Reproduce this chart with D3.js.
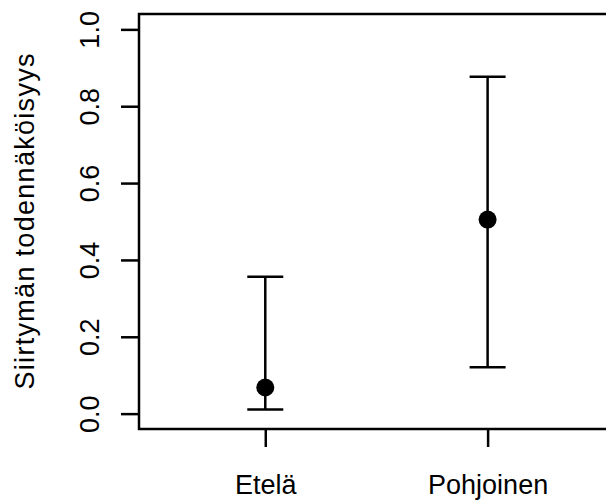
<!DOCTYPE html>
<html>
<head>
<meta charset="utf-8">
<script src="https://cdn.jsdelivr.net/npm/d3@7"></script>
<style>
  body { margin: 0; background: #fff; }
  text { font-family: "Liberation Sans", Arial, sans-serif; fill: #000; }
</style>
</head>
<body>
<div class="canvas"></div>
<script>
// data
const categories = ['Etelä', 'Pohjoinen'];
const estimates = [0.068, 0.505];
const lower = [0.011, 0.121];
const upper = [0.356, 0.877];
const yTicks = [0, 0.2, 0.4, 0.6, 0.8, 1.0];
const yLabel = 'Siirtymän todennäköisyys';

const width = 606, height = 503;
const plot = { left: 139, top: 14, bottom: 429, right: 621 };
const fontSize = 27;

const svg = d3
  .select('.canvas')
  .append('svg')
  .attr('width', width)
  .attr('height', height);

// scales (R style: 4% padding on y)
const y = d3.scaleLinear().domain([-0.04, 1.04]).range([plot.bottom, plot.top]);
const x = d3.scaleLinear().domain([0.432, 2.6]).range([plot.left, plot.right]);

// y axis
const yAxis = svg
  .append('g')
  .attr('transform', `translate(${plot.left},0)`)
  .call(d3.axisLeft(y).tickValues(yTicks).tickSize(18).tickFormat(d3.format('.1f')));
yAxis.select('.domain').remove();
yAxis.selectAll('line').attr('stroke', '#000').attr('stroke-width', 2.5);
yAxis
  .selectAll('text')
  .attr('x', null)
  .attr('dy', null)
  .attr('text-anchor', 'middle')
  .attr('transform', 'translate(-40,0) rotate(-90)')
  .style('font-size', fontSize + 'px')
  .style('font-family', '"Liberation Sans", Arial, sans-serif');

// x axis
const xAxis = svg
  .append('g')
  .attr('transform', `translate(0,${plot.bottom})`)
  .call(
    d3.axisBottom(x)
      .tickValues([1, 2])
      .tickSize(18)
      .tickFormat((d) => categories[d - 1])
  );
xAxis.select('.domain').remove();
xAxis.selectAll('line').attr('stroke', '#000').attr('stroke-width', 2.5);
xAxis
  .selectAll('text')
  .attr('y', 65)
  .attr('dy', null)
  .style('font-size', fontSize + 'px')
  .style('font-family', '"Liberation Sans", Arial, sans-serif');

// y label, centred on the plot region like R's mtext
svg
  .append('text')
  .attr('transform', `translate(34,${(plot.top + plot.bottom) / 2}) rotate(-90)`)
  .attr('text-anchor', 'middle')
  .attr('textLength', 336)
  .attr('lengthAdjust', 'spacing')
  .style('font-size', fontSize + 'px')
  .text(yLabel);

// plot box
svg
  .append('rect')
  .attr('x', plot.left)
  .attr('y', plot.top)
  .attr('width', plot.right - plot.left)
  .attr('height', plot.bottom - plot.top)
  .attr('fill', 'none')
  .attr('stroke', '#000')
  .attr('stroke-width', 2.5);

// error bars
const rows = categories.map((c, i) => ({ i: i + 1, est: estimates[i], lo: lower[i], hi: upper[i] }));
const capHalf = 18;

const bars = svg.append('g').attr('stroke', '#000').attr('stroke-width', 2.5);
bars
  .selectAll('.stem')
  .data(rows)
  .enter()
  .append('line')
  .attr('x1', (d) => x(d.i))
  .attr('x2', (d) => x(d.i))
  .attr('y1', (d) => y(d.lo))
  .attr('y2', (d) => y(d.hi));
['lo', 'hi'].forEach((k) => {
  bars
    .selectAll('.cap-' + k)
    .data(rows)
    .enter()
    .append('line')
    .attr('x1', (d) => x(d.i) - capHalf)
    .attr('x2', (d) => x(d.i) + capHalf)
    .attr('y1', (d) => y(d[k]))
    .attr('y2', (d) => y(d[k]));
});

// points
svg
  .append('g')
  .selectAll('circle')
  .data(rows)
  .enter()
  .append('circle')
  .attr('cx', (d) => x(d.i))
  .attr('cy', (d) => y(d.est))
  .attr('r', 9)
  .attr('fill', '#000');
</script>
</body>
</html>
